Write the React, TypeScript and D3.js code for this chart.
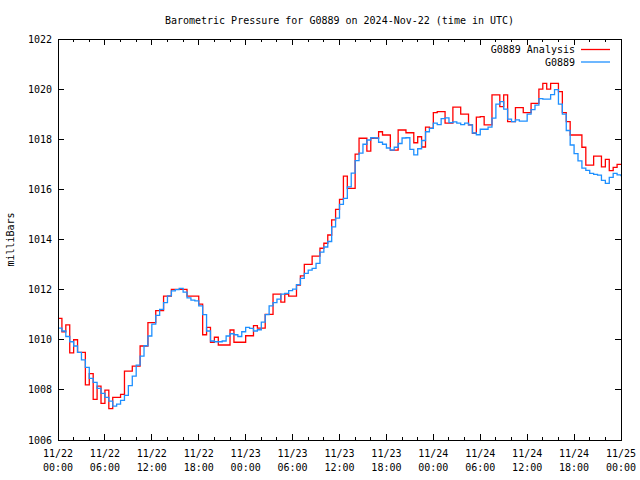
import React from "react";
import * as d3 from "d3";

const TITLE = "Barometric Pressure for G0889 on 2024-Nov-22 (time in UTC)";
const Y_LABEL = "milliBars";
const SERIES_NAMES = ["G0889 Analysis", "G0889"];
const STEP_HOURS = 0.5;
const X_TICK_DATES = ["11/22", "11/22", "11/22", "11/22", "11/23", "11/23", "11/23", "11/23", "11/24", "11/24", "11/24", "11/24", "11/25"];
const X_TICK_TIMES = ["00:00", "06:00", "12:00", "18:00", "00:00", "06:00", "12:00", "18:00", "00:00", "06:00", "12:00", "18:00", "00:00"];
const Y_TICKS = [1006, 1008, 1010, 1012, 1014, 1016, 1018, 1020, 1022];

// half-hourly analysis values (hPa)
const analysisValues = [
  1010.85, 1010.32, 1010.59, 1009.48, 1010.0, 1009.5, 1009.5, 1008.2, 1008.65, 1007.62,
  1008.15, 1007.46, 1007.99, 1007.25, 1007.7, 1007.7, 1007.82, 1008.75, 1008.75, 1008.95,
  1008.95, 1009.75, 1009.75, 1010.68, 1010.68, 1011.16, 1011.16, 1011.74, 1011.74, 1012.01,
  1012.01, 1012.01, 1012.01, 1011.74, 1011.74, 1011.74, 1011.42, 1010.2, 1010.49, 1009.9,
  1010.1, 1009.79, 1009.79, 1009.79, 1010.39, 1009.9, 1009.9, 1009.9, 1010.16, 1010.16,
  1010.56, 1010.46, 1010.46, 1011.01, 1011.01, 1011.82, 1011.82, 1011.5, 1011.82, 1011.74,
  1011.74, 1012.18, 1012.55, 1013.01, 1013.01, 1013.34, 1013.34, 1013.65, 1013.85, 1014.18,
  1014.78, 1015.2, 1015.6, 1016.53, 1016.04, 1016.04, 1017.41, 1018.04, 1018.04, 1017.53,
  1018.04, 1018.04, 1018.3, 1018.17, 1018.17, 1017.57, 1017.57, 1018.37, 1018.37, 1018.26,
  1018.26, 1017.86, 1018.1, 1017.69, 1018.48, 1018.44, 1019.06, 1019.1, 1019.1, 1018.64,
  1018.64, 1019.28, 1019.28, 1019.0, 1019.0, 1018.57, 1018.24, 1018.88, 1018.9, 1018.57,
  1018.57, 1019.77, 1019.77, 1019.3, 1019.77, 1018.7, 1018.7, 1019.26, 1019.26, 1019.06,
  1019.06, 1019.43, 1019.43, 1020.0, 1020.23, 1020.0, 1020.23, 1020.23, 1019.9, 1019.06,
  1018.7, 1018.17, 1018.17, 1018.17, 1017.68, 1016.97, 1016.97, 1017.33, 1017.33, 1016.9,
  1017.2, 1016.75, 1016.88, 1017.0, 1017.0,
];

// half-hourly observed values (hPa)
const observedValues = [
  1010.46, 1010.35, 1010.13, 1009.92, 1009.75, 1009.5, 1009.2, 1008.9, 1008.46, 1008.3,
  1008.06, 1007.86, 1007.7, 1007.55, 1007.35, 1007.43, 1007.58, 1007.78, 1008.17, 1008.55,
  1008.99, 1009.35, 1009.76, 1010.15, 1010.62, 1010.97, 1011.21, 1011.48, 1011.75, 1011.95,
  1012.0, 1012.05, 1011.9, 1011.67, 1011.58, 1011.55, 1011.35, 1011.0, 1010.35, 1009.95,
  1009.92, 1009.92, 1009.95, 1010.15, 1010.24, 1010.2, 1010.13, 1010.32, 1010.49, 1010.45,
  1010.35, 1010.4, 1010.7, 1011.0, 1011.35, 1011.48, 1011.62, 1011.82, 1011.85, 1011.96,
  1012.02, 1012.2, 1012.45, 1012.65, 1012.78, 1012.85, 1013.05, 1013.5, 1013.7, 1013.92,
  1014.5, 1014.85, 1015.4, 1015.64, 1016.1, 1016.65, 1017.15, 1017.45, 1017.8, 1017.97,
  1018.06, 1018.05, 1017.88, 1017.8, 1017.65, 1017.57, 1017.68, 1017.83, 1018.05, 1018.06,
  1017.6, 1017.38, 1017.62, 1017.95, 1018.3, 1018.43, 1018.64, 1018.58, 1018.82, 1018.85,
  1018.66, 1018.69, 1018.64, 1018.58, 1018.64, 1018.57, 1018.25, 1018.18, 1018.4, 1018.4,
  1018.48, 1018.84, 1019.4, 1019.5, 1019.2, 1018.8, 1018.7, 1018.77, 1018.72, 1018.72,
  1019.0, 1019.18, 1019.36, 1019.62, 1019.6, 1019.6, 1019.78, 1019.98, 1019.4, 1019.0,
  1018.35, 1017.77, 1017.43, 1017.14, 1016.85, 1016.76, 1016.64, 1016.6, 1016.57, 1016.36,
  1016.24, 1016.48, 1016.64, 1016.58, 1016.52,
];

const COLORS = ["#ff0000", "#1e90ff"];
const FONT = "'DejaVu Sans Mono', monospace";

export default function App() {
  const W = 640, H = 480;
  const left = 58, right = 621, top = 39, bottom = 440;
  const x = d3.scaleLinear().domain([0, 72]).range([left, right]);
  const y = d3.scaleLinear().domain([1006, 1022]).range([bottom, top]);

  const mk = (vals: number[]) =>
    d3.line<number>()
      .x((_, i) => x(i * STEP_HOURS))
      .y((v) => y(v))
      .curve(d3.curveStepAfter)(vals) || "";

  const majorX = d3.range(0, 73, 6);
  const minorX = d3.range(0, 73, 2).filter((h) => h % 6 !== 0);

  return (
    <svg width={W} height={H} style={{ position: "absolute", left: 0, top: 0, background: "#fff" }}
      fontFamily={FONT} fontSize={10}>
      <rect x={0} y={0} width={W} height={H} fill="#fff" />
      <text x={(left + right) / 2} y={24} textAnchor="middle">{TITLE}</text>
      <text transform={`translate(14,${(top + bottom) / 2}) rotate(-90)`} textAnchor="middle">{Y_LABEL}</text>

      <defs>
        <clipPath id="clip"><rect x={left} y={top} width={right - left} height={bottom - top} /></clipPath>
      </defs>
      <g clipPath="url(#clip)">
        <path d={mk(analysisValues)} fill="none" stroke={COLORS[0]} strokeWidth={1.3} />
        <path d={mk(observedValues)} fill="none" stroke={COLORS[1]} strokeWidth={1.3} />
      </g>

      <g stroke="#000" strokeWidth={1} shapeRendering="crispEdges">
        <rect x={left} y={top} width={right - left} height={bottom - top} fill="none" />
        {majorX.map((h) => (
          <g key={"mx" + h}>
            <line x1={x(h)} x2={x(h)} y1={bottom} y2={bottom - 6} />
            <line x1={x(h)} x2={x(h)} y1={top} y2={top + 6} />
          </g>
        ))}
        {minorX.map((h) => (
          <g key={"nx" + h}>
            <line x1={x(h)} x2={x(h)} y1={bottom} y2={bottom - 3} />
            <line x1={x(h)} x2={x(h)} y1={top} y2={top + 3} />
          </g>
        ))}
        {Y_TICKS.map((v) => (
          <g key={"y" + v}>
            <line x1={left} x2={left + 6} y1={y(v)} y2={y(v)} />
            <line x1={right} x2={right - 6} y1={y(v)} y2={y(v)} />
          </g>
        ))}
      </g>

      {Y_TICKS.map((v) => (
        <text key={"yl" + v} x={52} y={y(v) + 3.5} textAnchor="end">{v}</text>
      ))}
      {majorX.map((h, i) => (
        <g key={"xl" + h}>
          <text x={x(h)} y={457} textAnchor="middle">{X_TICK_DATES[i]}</text>
          <text x={x(h)} y={471} textAnchor="middle">{X_TICK_TIMES[i]}</text>
        </g>
      ))}

      {SERIES_NAMES.map((name, i) => (
        <g key={name}>
          <text x={575} y={53 + i * 12.5} textAnchor="end">{name}</text>
          <line x1={581} x2={610} y1={49.5 + i * 12.5} y2={49.5 + i * 12.5} stroke={COLORS[i]} strokeWidth={1.3} />
        </g>
      ))}
    </svg>
  );
}
